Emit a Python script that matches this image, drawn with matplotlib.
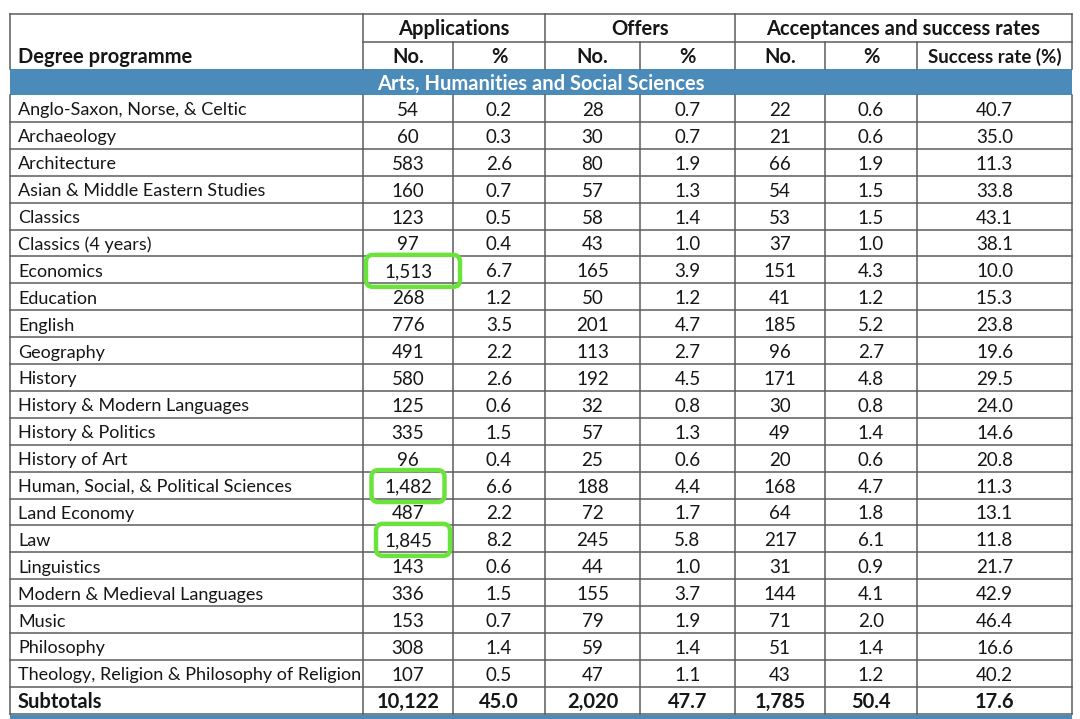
import matplotlib.pyplot as plt
from matplotlib.patches import Rectangle, FancyBboxPatch

# table content
programmes = [
    "Anglo-Saxon, Norse, & Celtic", "Archaeology", "Architecture",
    "Asian & Middle Eastern Studies", "Classics", "Classics (4 years)",
    "Economics", "Education", "English", "Geography", "History",
    "History & Modern Languages", "History & Politics", "History of Art",
    "Human, Social, & Political Sciences", "Land Economy", "Law",
    "Linguistics", "Modern & Medieval Languages", "Music", "Philosophy",
    "Theology, Religion & Philosophy of Religion",
]
app_no = [54, 60, 583, 160, 123, 97, 1513, 268, 776, 491, 580, 125, 335, 96,
          1482, 487, 1845, 143, 336, 153, 308, 107]
app_pct = [0.2, 0.3, 2.6, 0.7, 0.5, 0.4, 6.7, 1.2, 3.5, 2.2, 2.6, 0.6, 1.5, 0.4,
           6.6, 2.2, 8.2, 0.6, 1.5, 0.7, 1.4, 0.5]
off_no = [28, 30, 80, 57, 58, 43, 165, 50, 201, 113, 192, 32, 57, 25,
          188, 72, 245, 44, 155, 79, 59, 47]
off_pct = [0.7, 0.7, 1.9, 1.3, 1.4, 1.0, 3.9, 1.2, 4.7, 2.7, 4.5, 0.8, 1.3, 0.6,
           4.4, 1.7, 5.8, 1.0, 3.7, 1.9, 1.4, 1.1]
acc_no = [22, 21, 66, 54, 53, 37, 151, 41, 185, 96, 171, 30, 49, 20,
          168, 64, 217, 31, 144, 71, 51, 43]
acc_pct = [0.6, 0.6, 1.9, 1.5, 1.5, 1.0, 4.3, 1.2, 5.2, 2.7, 4.8, 0.8, 1.4, 0.6,
           4.7, 1.8, 6.1, 0.9, 4.1, 2.0, 1.4, 1.2]
success = [40.7, 35.0, 11.3, 33.8, 43.1, 38.1, 10.0, 15.3, 23.8, 19.6, 29.5,
           24.0, 14.6, 20.8, 11.3, 13.1, 11.8, 21.7, 42.9, 46.4, 16.6, 40.2]
subtotals = ["10,122", "45.0", "2,020", "47.7", "1,785", "50.4", "17.6"]

groups = ["Applications", "Offers", "Acceptances and success rates"]
sub_headers = ["No.", "%", "No.", "%", "No.", "%", "Success rate (%)"]
section = "Arts, Humanities and Social Sciences"
highlighted = ["Economics", "Human, Social, & Political Sciences", "Law"]
# hand-drawn highlight boxes: (x shift, width) per highlighted row
box_style = {"Economics": (5, 94), "Human, Social, & Political Sciences": (0, 73),
             "Law": (5, 74)}

# layout (pixels)
col_x = [10, 363, 453, 545, 640, 735, 825, 917, 1072]
group_span = [(1, 3), (3, 5), (5, 8)]
top = 14
hdr_h = 27.5
band_h = 26
row_h = 26.9
LINE = "#5c5c5c"
TXT = "#161616"
BLUE = "#4a8bb9"
GREEN = "#6ae33a"
FONT = "Lato"
FS = 13
HFS = 14.5

fig = plt.figure(figsize=(10.8, 7.19), dpi=100)
ax = fig.add_axes([0, 0, 1, 1])
ax.set_xlim(0, 1080)
ax.set_ylim(719, 0)
ax.axis("off")

left, right = col_x[0], col_x[-1]
h1 = top + hdr_h
h2 = h1 + hdr_h
band_bot = h2 + band_h
n_rows = len(programmes) + 1
bottom = band_bot + n_rows * row_h

# header
for name, (a, b) in zip(groups, group_span):
    ax.text((col_x[a] + col_x[b]) / 2, (top + h1) / 2 + 1.5, name, ha="center",
            va="center", fontsize=HFS, fontweight="bold", family=FONT, color=TXT)
ax.text(col_x[0] + 8, (h1 + h2) / 2 + 1.5, "Degree programme", ha="left", va="center",
        fontsize=HFS, fontweight="bold", family=FONT, color=TXT)
for i, s in enumerate(sub_headers):
    ax.text((col_x[i + 1] + col_x[i + 2]) / 2, (h1 + h2) / 2 + 1.5, s, ha="center",
            va="center", fontsize=HFS if i < 6 else 13.5, fontweight="bold",
            family=FONT, color=TXT)

ax.add_patch(Rectangle((left, h2), right - left, band_h, facecolor=BLUE,
                       edgecolor="none"))
ax.text((left + right) / 2, (h2 + band_bot) / 2 + 1.5, section, ha="center", va="center",
        fontsize=HFS, fontweight="bold", family=FONT, color="white")

# body
for r, prog in enumerate(programmes):
    yc = band_bot + (r + 0.5) * row_h + 2
    vals = [f"{app_no[r]:,}", f"{app_pct[r]:.1f}", f"{off_no[r]:,}",
            f"{off_pct[r]:.1f}", f"{acc_no[r]:,}", f"{acc_pct[r]:.1f}",
            f"{success[r]:.1f}"]
    ax.text(col_x[0] + 8, yc, prog, ha="left", va="center", fontsize=FS,
            family=FONT, color=TXT)
    for i, v in enumerate(vals):
        ax.text((col_x[i + 1] + col_x[i + 2]) / 2, yc, v, ha="center",
                va="center", fontsize=13.5, family=FONT, color=TXT)
    if prog in highlighted:
        dx, w = box_style[prog]
        xc = (col_x[1] + col_x[2]) / 2 + dx
        box = FancyBboxPatch((xc - w / 2, yc - 17), w, 32,
                             boxstyle="round,pad=0,rounding_size=7",
                             facecolor="none", edgecolor=GREEN, linewidth=3.2,
                             zorder=5)
        ax.add_patch(box)

yc = band_bot + (n_rows - 0.5) * row_h + 2
ax.text(col_x[0] + 8, yc, "Subtotals", ha="left", va="center", fontsize=HFS,
        fontweight="bold", family=FONT, color=TXT)
for i, v in enumerate(subtotals):
    ax.text((col_x[i + 1] + col_x[i + 2]) / 2, yc, v, ha="center", va="center",
            fontsize=HFS, fontweight="bold", family=FONT, color=TXT)

# grid lines
lw = 1.1
ax.plot([left, right], [top, top], color=LINE, lw=lw)
ax.plot([col_x[1], right], [h1, h1], color=LINE, lw=lw)
for r in range(1, n_rows):
    y = band_bot + r * row_h
    ax.plot([left, right], [y, y], color=LINE, lw=lw)
ax.plot([left, right], [bottom, bottom], color=LINE, lw=lw)
for i, x in enumerate(col_x):
    if i in (0, 1, 3, 5, 8):
        ax.plot([x, x], [top, h2], color=LINE, lw=lw)
    else:
        ax.plot([x, x], [h1, h2], color=LINE, lw=lw)
    ax.plot([x, x], [band_bot, bottom], color=LINE, lw=lw)
ax.add_patch(Rectangle((left, bottom + 1), right - left, 4, facecolor=BLUE,
                       edgecolor="none"))

fig.savefig("out.png", dpi=100)
